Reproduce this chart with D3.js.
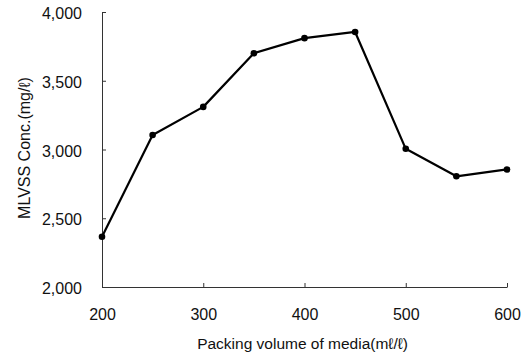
<!DOCTYPE html>
<html>
<head>
<meta charset="utf-8">
<script src="https://cdn.jsdelivr.net/npm/d3@7"></script>
<style>
  html, body { margin: 0; padding: 0; background: #fff; }
  svg { display: block; }
  text { font-family: "Liberation Sans", Arial, Helvetica, sans-serif; fill: #111; }
</style>
</head>
<body>
<svg id="chart" width="529" height="355"></svg>
<script>
// Packing volume of media (mℓ/ℓ)
const packingVolume = [200, 250, 300, 350, 400, 450, 500, 550, 600];
// MLVSS concentration (mg/ℓ)
const mlvss = [2365, 3105, 3310, 3700, 3810, 3855, 3005, 2805, 2855];

const xTicks = [200, 300, 400, 500, 600];
const yTicks = [2000, 2500, 3000, 3500, 4000];

const xTitle = "Packing volume of media(mℓ/ℓ)";
const yTitle = "MLVSS Conc.(mg/ℓ)";

const svg = d3.select("#chart");
const margin = { left: 102, right: 22, top: 12, bottom: 68 };
const W = 529, H = 355;

const x = d3.scaleLinear().domain([200, 600]).range([margin.left, W - margin.right]);
const y = d3.scaleLinear().domain([2000, 4000]).range([H - margin.bottom, margin.top]);

const fmt = d3.format(",");

// y axis, ticks pointing into the plot
const yAxis = svg.append("g")
  .attr("transform", `translate(${margin.left},0)`)
  .call(d3.axisLeft(y).tickValues(yTicks).tickFormat(fmt)
    .tickSizeInner(-4).tickSizeOuter(0).tickPadding(20));
yAxis.selectAll("text").attr("font-size", 16).attr("dy", "0.42em");

// x axis, ticks pointing into the plot
const xAxis = svg.append("g")
  .attr("transform", `translate(0,${H - margin.bottom})`)
  .call(d3.axisBottom(x).tickValues(xTicks).tickFormat(d3.format("d"))
    .tickSizeInner(-4).tickSizeOuter(0).tickPadding(22));
xAxis.selectAll("text").attr("font-size", 16);

svg.selectAll(".domain, .tick line").attr("stroke", "#333").attr("stroke-width", 1);
svg.selectAll(".tick text").style("fill", "#111").attr("font-family", null);

// data line
svg.append("path")
  .datum(packingVolume.map((v, i) => [v, mlvss[i]]))
  .attr("fill", "none")
  .attr("stroke", "#000")
  .attr("stroke-width", 2.2)
  .attr("stroke-linejoin", "round")
  .attr("d", d3.line().x(d => x(d[0])).y(d => y(d[1])));

// markers
svg.selectAll("circle.pt")
  .data(packingVolume)
  .join("circle")
  .attr("class", "pt")
  .attr("cx", d => x(d))
  .attr("cy", (d, i) => y(mlvss[i]))
  .attr("r", 3.3)
  .attr("fill", "#000");

// axis titles
svg.append("text")
  .attr("x", (x(200) + x(600)) / 2 - 2)
  .attr("y", 349)
  .attr("text-anchor", "middle")
  .attr("font-size", 15.5)
  .text(xTitle);

svg.append("text")
  .attr("transform", `translate(30,148) rotate(-90)`)
  .attr("text-anchor", "middle")
  .attr("font-size", 16)
  .text(yTitle);
</script>
</body>
</html>
